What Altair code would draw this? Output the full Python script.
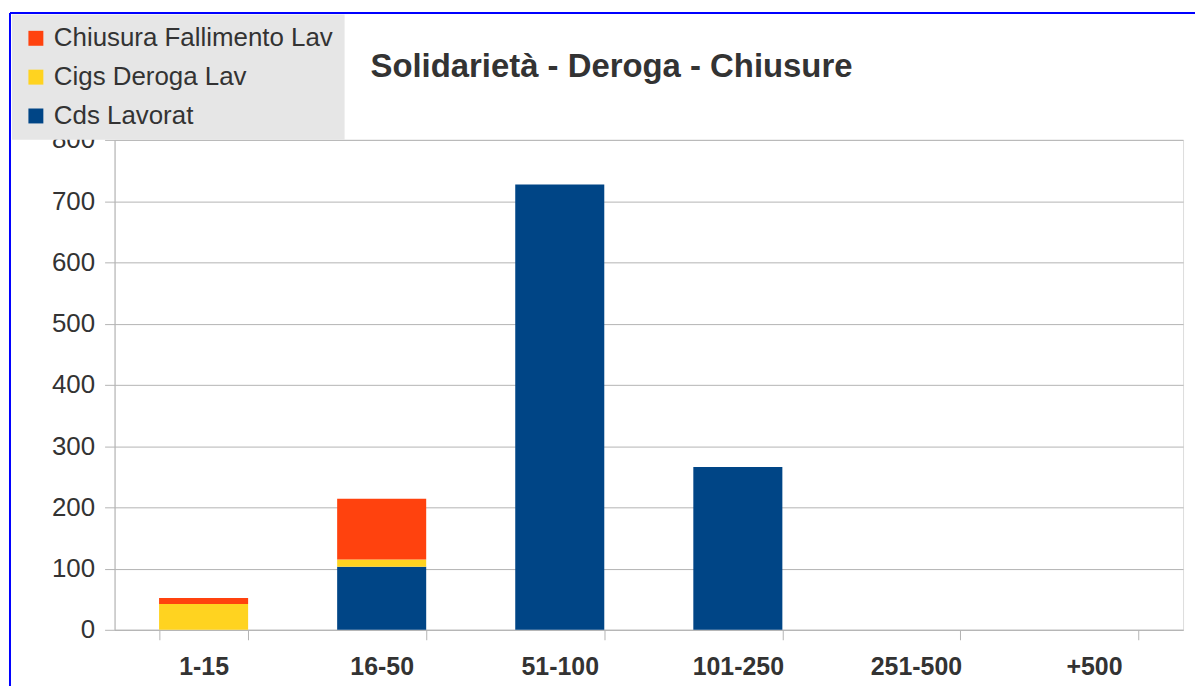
import altair as alt
import pandas as pd

categories = ["1-15", "16-50", "51-100", "101-250", "251-500", "+500"]
series_names = ["Chiusura Fallimento Lav", "Cigs Deroga Lav", "Cds Lavorat"]
series_colors = ["#ff420e", "#ffd320", "#004586"]
cds_lavorat = [0, 103, 727, 266, 0, 0]
cigs_deroga = [42, 12, 0, 0, 0, 0]
chiusura_fallimento = [10, 99, 0, 0, 0, 0]
y_ticks = [0, 100, 200, 300, 400, 500, 600, 700, 800]

rows = []
for i, c in enumerate(categories):
    rows.append({"cat": c, "serie": "Cds Lavorat", "val": cds_lavorat[i], "ord": 0})
    rows.append({"cat": c, "serie": "Cigs Deroga Lav", "val": cigs_deroga[i], "ord": 1})
    rows.append({"cat": c, "serie": "Chiusura Fallimento Lav", "val": chiusura_fallimento[i], "ord": 2})
df = pd.DataFrame(rows)

FONT = "Liberation Sans"
TXT = "#333333"
GRID = "#b3b3b3"

bars = alt.Chart(df).mark_bar().encode(
    x=alt.X("cat:N", sort=categories,
            scale=alt.Scale(paddingInner=0.5, paddingOuter=0.25),
            axis=alt.Axis(title=None, labelAngle=0, labelFontSize=25, labelFontWeight="bold",
                          labelColor=TXT, labelFont=FONT, tickBand="extent", tickSize=10,
                          tickColor=GRID, domainColor=GRID, labelPadding=15, grid=False)),
    y=alt.Y("val:Q", stack="zero",
            scale=alt.Scale(domain=[0, 800], nice=False),
            axis=alt.Axis(title=None, values=y_ticks, labelFontSize=26, labelColor=TXT,
                          labelFont=FONT, tickSize=10, tickColor=GRID, domainColor=GRID,
                          gridColor=GRID, labelPadding=10)),
    color=alt.Color("serie:N",
                    scale=alt.Scale(domain=series_names, range=series_colors),
                    legend=alt.Legend(title=None, orient="none", legendX=-103, legendY=-126,
                                      fillColor="#e6e6e6", padding=11, symbolType="square",
                                      symbolSize=225, symbolStrokeWidth=0, labelFontSize=26,
                                      labelFont=FONT, labelColor=TXT, rowPadding=13,
                                      symbolOffset=0, labelOffset=5, labelLimit=400,
                                      symbolOpacity=1)),
    order=alt.Order("ord:Q", sort="ascending"),
)

frame_df = pd.DataFrame({"k": [0]})
top_line = alt.Chart(frame_df).mark_rule(color="#0000ff", strokeWidth=2).encode(
    x=alt.value(-105), x2=alt.value(1090), y=alt.value(-127.5))
left_line = alt.Chart(frame_df).mark_rule(color="#0000ff", strokeWidth=2).encode(
    x=alt.value(-105), y=alt.value(-127.5), y2=alt.value(560))

chart = alt.layer(top_line, left_line, bars).properties(
    width=1073, height=492,
    autosize=alt.AutoSizeParams(type="none"),
    padding={"left": 107, "top": 131, "right": 12, "bottom": 55},
    title=alt.Title("Solidarietà - Deroga - Chiusure", anchor="start", frame="group",
                    dx=257, dy=72, fontSize=33, fontWeight="bold", color=TXT, font=FONT,
                    offset=0),
).configure_view(stroke=GRID, strokeWidth=1).configure(background="white")

chart.save("out.html", embed_options={"renderer": "svg", "actions": False})
